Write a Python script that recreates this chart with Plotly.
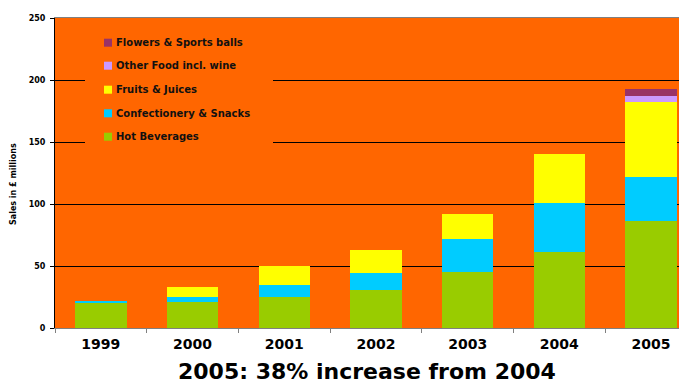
import plotly.graph_objects as go

years = ["1999", "2000", "2001", "2002", "2003", "2004", "2005"]
hot_beverages = [20, 21, 25, 30.6, 45.4, 61.5, 86.3]
confectionery = [2, 4, 9.7, 13.8, 26.4, 39.5, 35.5]
fruits_juices = [0, 8, 15.3, 18.5, 20.1, 39.5, 60.5]
other_food = [0, 0, 0, 0, 0, 0, 4.8]
flowers_balls = [0, 0, 0, 0, 0, 0, 5.6]

series_names = ["Hot Beverages", "Confectionery & Snacks", "Fruits & Juices",
                "Other Food incl. wine", "Flowers & Sports balls"]
series_values = [hot_beverages, confectionery, fruits_juices, other_food, flowers_balls]
series_colors = ["#99CC00", "#00CCFF", "#FFFF00", "#CC99FF", "#993366"]

y_ticks = [0, 50, 100, 150, 200, 250]

FONT = "DejaVu Sans"
OFF = 8  # browser page margin
W, H = 687 - OFF, 385 - OFF
ML, MR, MT, MB = 55 - OFF, 0, 18 - OFF, 57
PW, PH = W - ML - MR, H - MT - MB
CAT_PX = 91.7

def px_x(px):
    return (px - OFF - ML) / PW

def px_y(py):
    return (H - MB - (py - OFF)) / PH

fig = go.Figure()
for name, vals, col in zip(series_names, series_values, series_colors):
    fig.add_trace(go.Bar(x=years, y=vals, name=name, marker_color=col,
                         marker_line_width=0, width=0.56, showlegend=False))

# manual legend
shapes = [dict(type="rect", xref="paper", yref="paper",
               x0=px_x(85), x1=px_x(273), y0=px_y(152), y1=px_y(28),
               fillcolor="#FF6600", line_width=0, layer="above")]
annotations = []
item_y = [42.7, 65.7, 89.7, 113.3, 136.7]
for i, (name, col) in enumerate(zip(series_names[::-1], series_colors[::-1])):
    yc = item_y[i]
    shapes.append(dict(type="rect", xref="paper", yref="paper",
                       x0=px_x(104), x1=px_x(112), y0=px_y(yc + 4), y1=px_y(yc - 4),
                       fillcolor=col, line_width=0, layer="above"))
    annotations.append(dict(text=name, xref="paper", yref="paper",
                            x=px_x(114), y=px_y(yc), xanchor="left", yanchor="middle",
                            showarrow=False,
                            font=dict(family=FONT, size=10, color="#111111", weight="bold")))

annotations.append(dict(text="Sales in £ millions", xref="paper", yref="paper",
                        x=px_x(14), y=px_y(184), textangle=-90, showarrow=False,
                        xanchor="center", yanchor="middle",
                        font=dict(family=FONT, size=8, color="#000000", weight="bold")))
annotations.append(dict(text="2005: 38% increase from 2004", xref="paper", yref="paper",
                        x=px_x(366.5), y=px_y(385), showarrow=False,
                        xanchor="center", yanchor="bottom", borderpad=0,
                        font=dict(family=FONT, size=22, color="#000000", weight="bold")))

fig.update_layout(
    width=W, height=H,
    margin=dict(l=ML, r=MR, t=MT, b=MB, pad=0),
    barmode="stack",
    plot_bgcolor="#FF6600",
    paper_bgcolor="#FFFFFF",
    showlegend=False,
    shapes=shapes,
    annotations=annotations,
    xaxis=dict(type="category", range=[-0.5, -0.5 + PW / CAT_PX],
               tickson="boundaries", ticks="outside", ticklen=4, tickcolor="#808080",
               showline=True, linecolor="#808080", linewidth=1, mirror=True,
               showgrid=False, ticklabelstandoff=3,
               tickfont=dict(family=FONT, size=14, color="#000000", weight="bold")),
    yaxis=dict(range=[0, 250], tickvals=y_ticks, ticks="outside", ticklen=4,
               tickcolor="#000000", showline=True, linecolor="#000000", linewidth=1,
               showgrid=True, gridcolor="#000000", gridwidth=1, zeroline=False,
               ticklabelstandoff=3,
               tickfont=dict(family=FONT, size=8, color="#000000", weight="bold")),
)

fig.write_html("out.html")
